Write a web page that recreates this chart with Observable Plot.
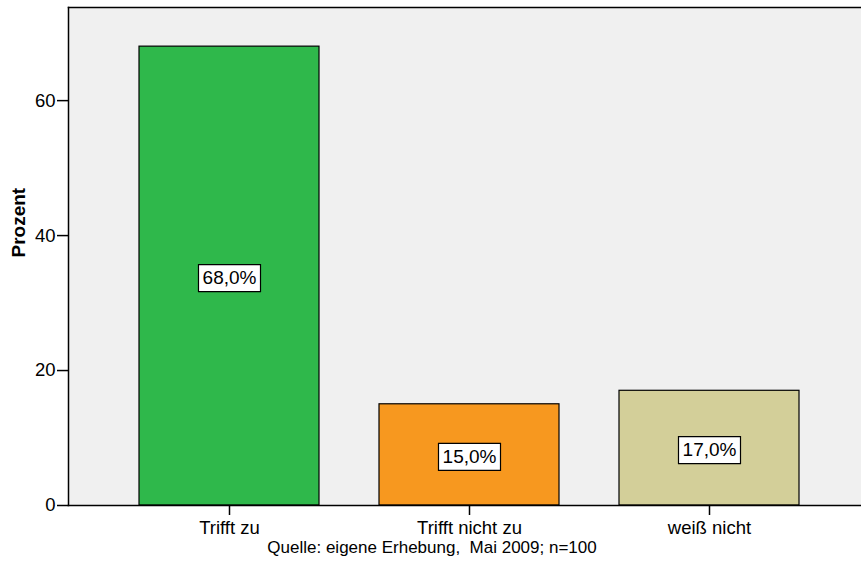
<!DOCTYPE html>
<html>
<head>
<meta charset="utf-8">
<script src="https://cdn.jsdelivr.net/npm/d3@7"></script>
<script src="https://cdn.jsdelivr.net/npm/@observablehq/plot@0.6"></script>
<style>
  body { margin: 0; background: #fff; }
  svg { font-family: "Liberation Sans", Arial, sans-serif; }
</style>
</head>
<body>
<div id="chart"></div>
<script>
const categories = ["Trifft zu", "Trifft nicht zu", "weiß nicht"];
const percents = [68, 15, 17];
const labels = ["68,0%", "15,0%", "17,0%"];
const colors = ["#2fb84b", "#f7981f", "#d3cf99"];
const yTicks = [0, 20, 40, 60];
const caption = "Quelle: eigene Erhebung,  Mai 2009; n=100";

const data = categories.map((c, i) => ({cat: c, value: percents[i], label: labels[i], color: colors[i]}));

const boxSymbol = {
  draw(ctx) { ctx.rect(-31, -13.5, 62, 27); }
};

const chart = Plot.plot({
  width: 861,
  height: 562,
  marginLeft: 68,
  marginRight: 0,
  marginTop: 7,
  marginBottom: 57,
  style: {color: "black", fontFamily: "'Liberation Sans', Arial, sans-serif"},
  x: {domain: categories, range: [79, 859], padding: 0.25},
  y: {domain: [0, 73.8]},
  marks: [
    Plot.frame({fill: "#f0f0f0", stroke: "none"}),
    Plot.barY(data, {x: "cat", y: "value", fill: "color", stroke: "black", strokeWidth: 1.2}),
    Plot.dot(data, {x: "cat", y: d => d.value / 2, dy: 2, symbol: boxSymbol, fill: "white", stroke: "black", strokeWidth: 1.2}),
    Plot.text(data, {x: "cat", y: d => d.value / 2, dy: 2, text: "label", fontSize: 19, fill: "black"}),
    Plot.frame({anchor: "left", stroke: "black", strokeWidth: 1.5}),
    Plot.frame({anchor: "top", stroke: "black", strokeWidth: 1.5}),
    Plot.frame({anchor: "bottom", stroke: "black", strokeWidth: 1.5}),
    Plot.axisY({ticks: yTicks, tickSize: 11, tickPadding: 2, fontSize: 18.5, label: null, strokeWidth: 1.5}),
    Plot.axisX({tickSize: 10, tickPadding: 5, fontSize: 18.5, label: null, strokeWidth: 1.5}),
    Plot.text(["Prozent"], {frameAnchor: "left", dx: -50, dy: 1, rotate: -90, fontSize: 19, fontWeight: "bold", fill: "black"}),
    Plot.text([caption], {frameAnchor: "bottom", dx: -33, dy: 47, fontSize: 17, fill: "black"})
  ]
});
document.getElementById("chart").appendChild(chart);
</script>
</body>
</html>
